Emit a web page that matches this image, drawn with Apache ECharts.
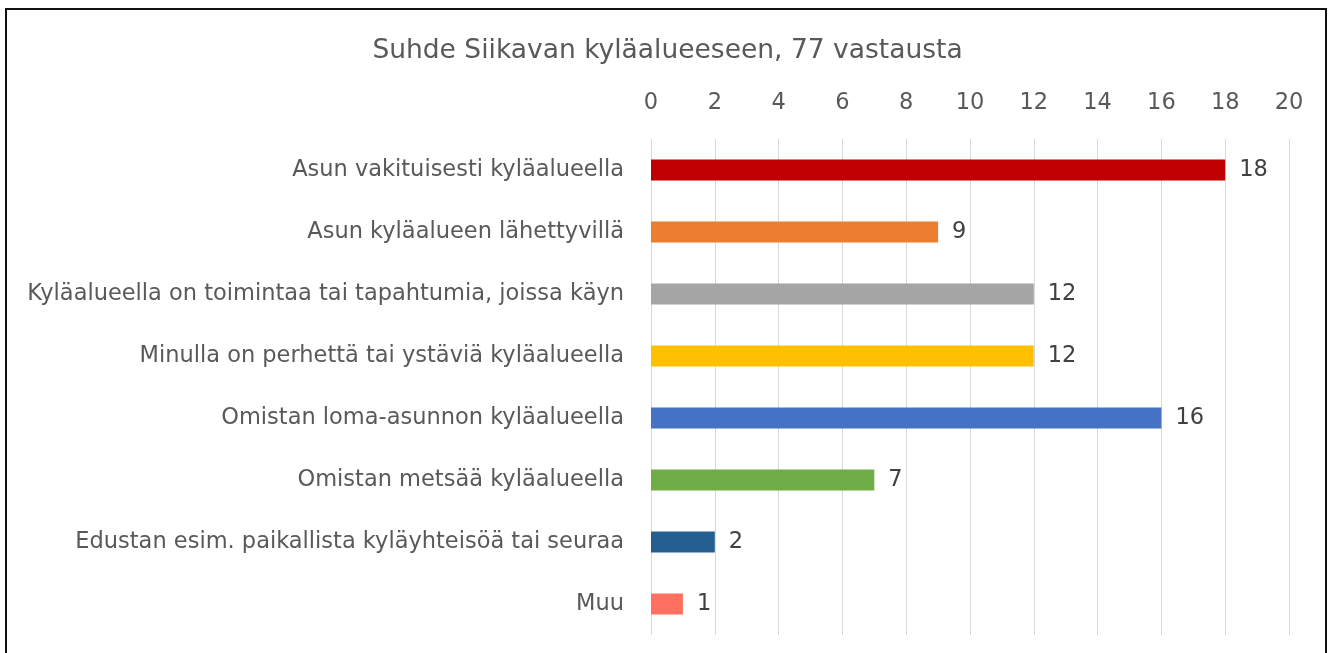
<!DOCTYPE html>
<html><head><meta charset="utf-8">
<script src="https://cdn.jsdelivr.net/npm/echarts@6/dist/echarts.min.js"></script>
<style>
html,body{margin:0;padding:0;background:#fff;width:1335px;height:653px;overflow:hidden;}
#frame{position:absolute;left:5px;top:8px;width:1322px;height:700px;border:2px solid #111;box-sizing:border-box;}
#c{position:absolute;left:0;top:0;width:1335px;height:653px;}
</style></head><body>
<div id="frame"></div>
<div id="c"></div>
<script>
const categories = [
  "Asun vakituisesti kyläalueella",
  "Asun kyläalueen lähettyvillä",
  "Kyläalueella on toimintaa tai tapahtumia, joissa käyn",
  "Minulla on perhettä tai ystäviä kyläalueella",
  "Omistan loma-asunnon kyläalueella",
  "Omistan metsää kyläalueella",
  "Edustan esim. paikallista kyläyhteisöä tai seuraa",
  "Muu"
];
const values = [18, 9, 12, 12, 16, 7, 2, 1];
const colors = ["#C00000", "#ED7D31", "#A5A5A5", "#FFC000", "#4472C4", "#70AD47", "#255E91", "#FF7061"];
const titleText = "Suhde Siikavan kyläalueeseen, 77 vastausta";

const font = "'DejaVu Sans', sans-serif";
const chart = echarts.init(document.getElementById('c'), null, {renderer:'canvas'});
chart.setOption({
  animation:false,
  title:{text:titleText, left:'center', top:33, textStyle:{fontFamily:font, fontSize:26.5, fontWeight:'normal', color:'#595959'}},
  grid:{left:651, right:1335-1289, top:139, height:496, containLabel:false},
  xAxis:{type:'value', position:'top', min:0, max:20, interval:2,
    axisLine:{show:false}, axisTick:{show:false},
    axisLabel:{fontFamily:font, fontSize:22.5, color:'#595959', margin:24},
    splitLine:{lineStyle:{color:'#D9D9D9', width:1}}},
  yAxis:{type:'category', inverse:true, data:categories,
    axisLine:{show:false}, axisTick:{show:false},
    axisLabel:{fontFamily:font, fontSize:22.5, color:'#595959', margin:27}},
  series:[{type:'bar', barWidth:21,
    data: values.map((v,i)=>({value:v, itemStyle:{color:colors[i]}})),
    label:{show:true, position:'right', distance:14, fontFamily:font, fontSize:22.5, color:'#404040'}}]
});
</script>
</body></html>
